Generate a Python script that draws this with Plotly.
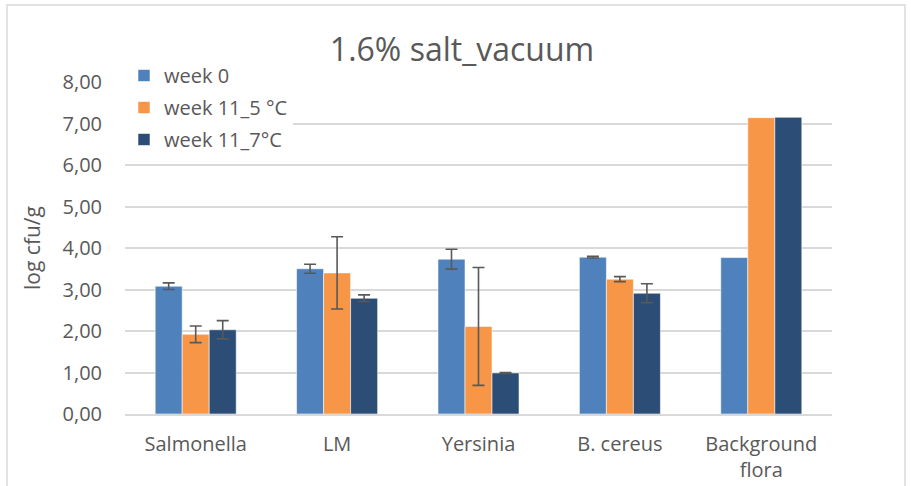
import plotly.graph_objects as go

categories = ["Salmonella", "LM", "Yersinia", "B. cereus", "Background<br>flora"]
series_names = ["week 0", "week 11_5 °C", "week 11_7°C"]
week0 = [3.08, 3.50, 3.73, 3.78, 3.77]
week0_err = [0.08, 0.11, 0.24, 0.02, None]
week11_5 = [1.92, 3.40, 2.11, 3.25, 7.14]
week11_5_err = [0.20, 0.87, 1.42, 0.06, None]
week11_7 = [2.03, 2.79, 0.99, 2.91, 7.15]
week11_7_err = [0.22, 0.08, 0.01, 0.23, None]
tick_vals = [0, 1, 2, 3, 4, 5, 6, 7, 8]
tick_text = ["0,00", "1,00", "2,00", "3,00", "4,00", "5,00", "6,00", "7,00", "8,00"]
colors = ["#4F81BD", "#F79646", "#2C4D75"]

FONT = "Open Sans"
TXT = "#595959"

fig = go.Figure()
for i, (name, vals, errs) in enumerate(zip(series_names,
                                           [week0, week11_5, week11_7],
                                           [week0_err, week11_5_err, week11_7_err])):
    fig.add_trace(go.Bar(
        x=categories, y=vals, name=name,
        legendgroup=f"g{i}",
        marker=dict(color=colors[i], line=dict(color="rgba(255,255,255,0.55)", width=1)),
        # "NaN" (not null) so plotly.js draws no error bar for missing values
        error_y=dict(type="data", array=[e if e is not None else "NaN" for e in errs],
                     visible=True, color="#595959", thickness=1.6, width=6),
    ))

W, H = 911, 486
L, R, T, B = 125, 79, 82, 72
pw, ph = W - L - R, H - T - B

def px_x(p):
    return (p - L) / pw

def px_y(p):
    return (H - B - p) / ph

fig.update_layout(
    width=W, height=H,
    margin=dict(l=L, r=R, t=T, b=B, autoexpand=False),
    paper_bgcolor="white", plot_bgcolor="white",
    barmode="group", bargap=0.427, bargroupgap=0,
    font=dict(family=FONT, color=TXT, size=20),
    title=dict(text="1.6% salt_vacuum", x=462 / W, xanchor="center",
               y=1 - 50 / H, yanchor="middle",
               font=dict(family=FONT, size=32, color=TXT)),
    showlegend=True,
    legend=dict(x=px_x(124), y=px_y(56), xanchor="left", yanchor="top",
                bgcolor="white", font=dict(size=20, color=TXT, family=FONT),
                tracegroupgap=3, traceorder="grouped"),
    xaxis=dict(showgrid=False, showline=True, linecolor="#D9D9D9", linewidth=1.5,
               automargin=False,
               ticks="", ticklabelstandoff=11, tickfont=dict(size=20, color=TXT)),
    yaxis=dict(range=[0, 8], tickvals=tick_vals, ticktext=tick_text,
               automargin=False,
               showgrid=True, gridcolor="#D9D9D9", gridwidth=1.5,
               zeroline=False, showline=False, ticks="", ticklabelstandoff=22,
               tickfont=dict(size=20, color=TXT),
               title=dict(text="log cfu/g", font=dict(size=21, color=TXT), standoff=16)),
    shapes=[dict(type="rect", xref="paper", yref="paper",
                 x0=px_x(7), x1=px_x(905), y0=px_y(492), y1=px_y(5),
                 line=dict(color="#D9D9D9", width=1.5), fillcolor="rgba(0,0,0,0)",
                 layer="below")],
)

fig.write_html("out.html", config={"displayModeBar": False},
               post_script="document.body.style.margin='0';")
